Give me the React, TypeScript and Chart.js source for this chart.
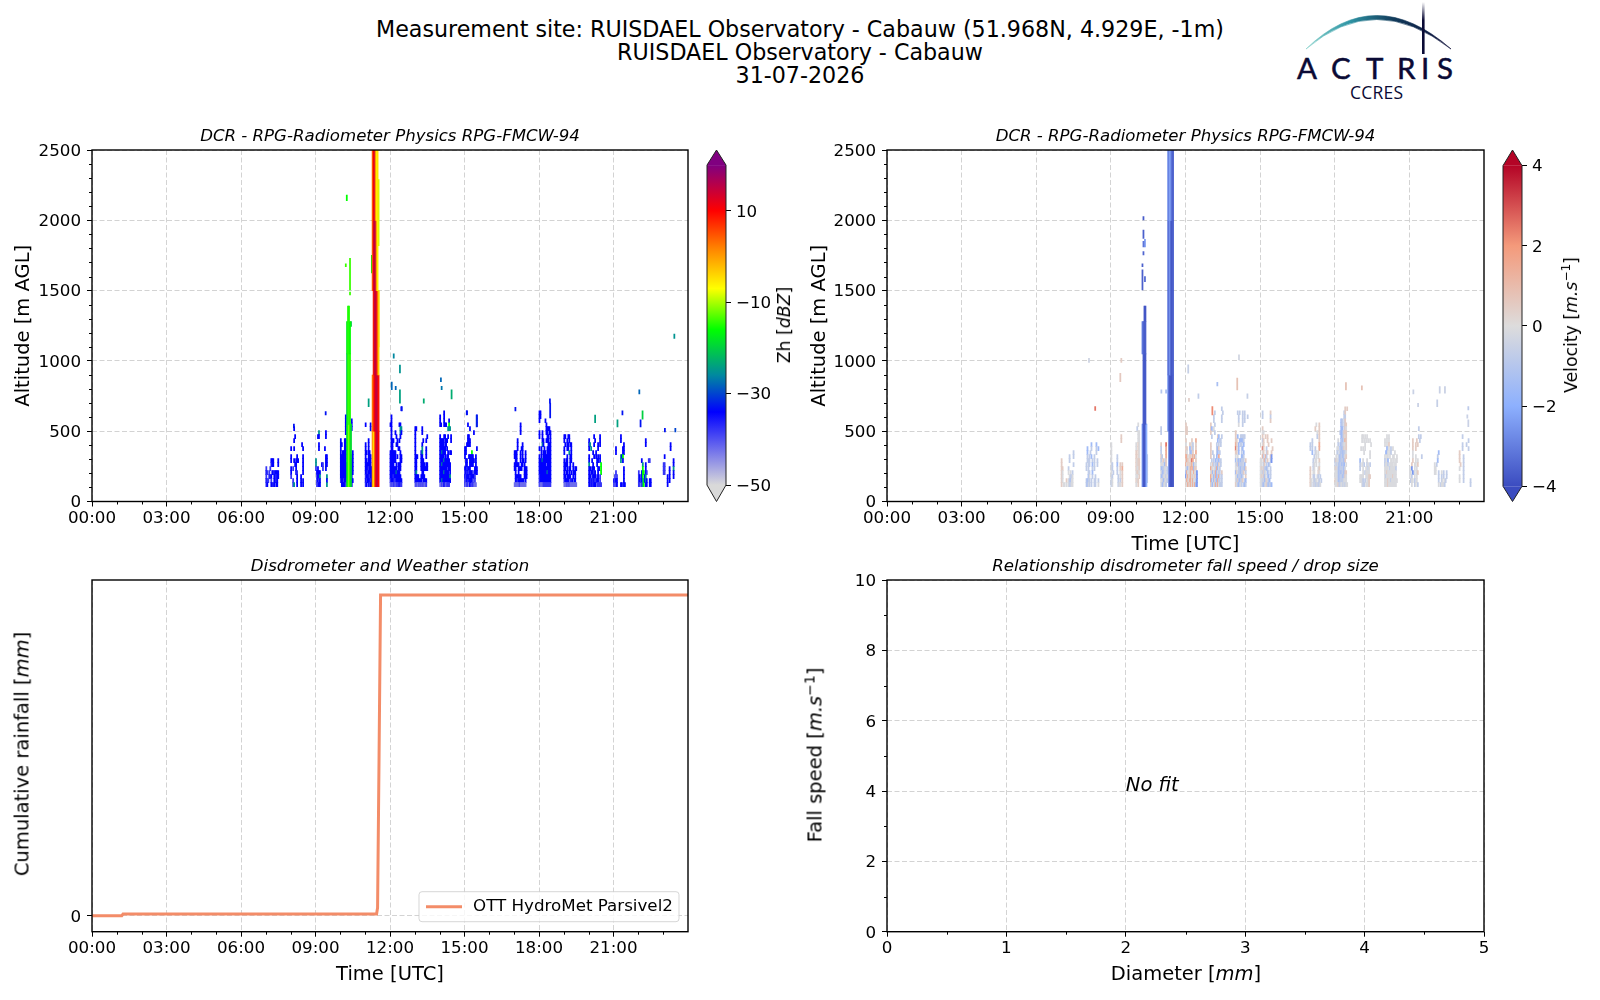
import { useEffect, useRef } from "react";
import { Chart, registerables } from "chart.js";

Chart.register(...registerables);
Chart.defaults.font.family = "'DejaVu Sans'";
Chart.defaults.color = "#000";

// --- axis values
const timeTicks = [0, 3, 6, 9, 12, 15, 18, 21];
const timeMinor = [1, 2, 4, 5, 7, 8, 10, 11, 13, 14, 16, 17, 19, 20, 22, 23];
const altMinor = [100, 200, 300, 400, 600, 700, 800, 900, 1100, 1200, 1300, 1400, 1600, 1700, 1800, 1900, 2100, 2200, 2300, 2400];
const zhTicks = [-50, -30, -10, 10];
const velTicks = [-4, -2, 0, 2, 4];
const zhStopValues = [-50, -34, -26, -16, -7, 2, 10, 15, 20];
const zhStopColors = ["#d9d9d9", "#0000ff", "#0088a0", "#00ff00", "#ffff00", "#ff8000", "#ff0000", "#c00040", "#800080"];
const velStopValues = [-4, -2, 0, 2, 4];
const velStopColors = ["#3b4cc0", "#8db0fe", "#dddcdc", "#f49a7b", "#b40426"];

// --- radar range gates and scan step
const gateBase = 106;
const gateStep = 28.4;
const scanStep = 0.04;

// --- letter codes for the cells below, in dBZ and m/s
const zhCodes: Record<string, number> = { l: -42, m: -38, b: -34, t: -25, g: -16 };
const velCodes: Record<string, number> = { e: -0.1, c: -0.7, a: -1.5, A: -2.5, p: 0.5, o: 1.4, r: 2.5 };

// --- showers, one row per gate (highest first), one letter per scan
const showerHours = [7, 8, 9, 10, 11, 12, 13, 14, 15, 17, 18, 19, 20, 21, 22, 23];

const zh07 = [".....bbb....b", ".....mbb....b", "m...m........", "bm.m..bbmbbbb", "m..bmb..bbmbb", "bmm..m..bbmb.", "mb...bbmb.bb."];
const zh08 = ["...b.........", ".............", "....b........", "...b.........", "...........b.", "b..b........b", ".............", "b.....b.....b", "b..b.bbb....b", "....bb......b", "b.m..b......b", "b....bm.....b", "m.....b...b..", "..m...b...b.b", "..mt..b...b.b"];
const zh09 = ["...t......b..", "..bb......b..", ".............", "...b.........", "...b.....b...", ".............", "..........bb.", "t.........bb.", "t.....bm..bb.", "m.b....m..b..", ".bbbb........", ".mbbt......t.", ".mbmb......b.", ".mmbb......t."];
const zh10 = [".....b.......", ".....b.....b.", ".....b.....b.", ".....b.....b.", ".....b.......", ".............", "b...bb.......", "bb..bb.......", "b...bb.......", "b.bbbb......b", "bbbbbb....b.b", "bbbbbb....bbb", "bbbbbbb...bbb", "bbbbbbb...bbb", "bbbbbbb...bbb", "bbbbbbb...bb.", "mbbmbbm...mbb", ".bbbbm....bb."];
const zh11 = ["b....b.", ".....b.", ".......", ".......", "...b...", "b..b...", "b..b...", "bb.bb..", "b..bbb.", "bb.bbb.", "bbbbbb.", "bbbmbbb", "bbmbbbb", "mbbbmbb", "bmbbbmb", "mb.bmbb"];
const zh12 = ["...........b.", ".............", ".b...........", ".b...........", "bb.......bb..", ".b........tt.", ".b...b....tb.", ".b....b...b..", ".bbb...b.b...", ".bb...bb.....", ".bb.....bb...", "bbbbbb....b..", "bbbbbb.b..bb.", "bbbbbb....bb.", "bbbb..b.bbb..", "bbbbbbb.bbb..", "bbbbbbtbbb...", "bbbmbbbbbbb..", "mbbbmmbbbbbb.", "lmlmmlmmmbmm."];
const zh13 = ["bb.....b.....", "b......b.....", "b...........b", "b.......b..b.", "b......b.....", "b......t...b.", "b.....bt...b.", "bbb...bb...b.", "bb....bbb....", "bb....bbbb.bb", "bb....bbbbbbb", "bt.....bb....", "bbbb..bbbb...", "bbbbbbb.bbbb.", "lmllmlmlmllm."];
const zh14 = ["....b........", "b...b........", "b...b....b...", "bb..bbb..g...", "........ttt..", ".............", "b...bb..b..b.", "bbbb.bbb...b.", "bbbb.bb......", "bbbbbb.b.....", "bbtbbb..b.bb.", "bbbb.b.bb....", "bbbbtbbbbb...", "bbtbbbbbbbb..", "bbbbbbb.bbb..", "bbbbtbbbb.b..", "bbbbbbbbbbt..", "bbtbbbbbbbb..", "llmlbmlmmm..."];
const zh15 = ["..b..........", "............b", "............b", "...b........b", ".....b.......", ".........b...", "...bb........", "...bbb.......", "..bbbb.......", "bb..........b", "bb.....g.....", "b...bbbbb..b.", ".bb..bbbbb.b.", ".bb..bbbb..b.", "bb.bbb....bbb", "mb.bmbbbm.bbb", "bmbbb.bbbbm..", "mmb.bbbbm.m..", "mlmmlb.mm.ll."];
const zh17 = ["......b......", "......b......", "......b......", ".............", "...b.........", "...b....b....", "...b...bb....", "bbb...b.b..b.", "bbb...b.b..b.", ".bb...b.bb.b.", "bbbbb..bb.b..", "bb..bbbb..bbb", ".b..b.....bbb", ".bbbbbb...bbb", ".bbmbbbbbb.b.", "lllllmllllll."];
const zh18 = ["bb...........", "bb...........", "b.....b......", ".......b.....", ".......bbbb..", "b..b...bb.bb.", "b..b....bb.b.", "...bb..bbb.b.", "...tb....bbb.", "b.b..b..bbbb.", "..b.bbb.bbbb.", "b.b.bbbbbbbb.", "bbbtbbbbbbbb.", "bbbbbbb.bbbb.", "bbbbbbbbbbbb.", "bbbbbbbbtbbb.", "mbbbbbbbbbbb.", "mbbbbbbbbbbb.", "mlllmmmmmmmm."];
const zh19 = ["bb..bb.......", "b..b.b.......", ".b.bb.bb.....", "b..bb..b.....", "b....t.b.....", "...b..bb.....", "b.bb..bb.....", "bbbb..b..b...", "bb.b.bb..b.bb", "b.bb.b.b.bbb.", "bb.bbbb..b.b.", "mbbbb.bmb.bb.", "lllmlmlllllll"];
const zh20 = [".....b.....b.", "b.....b....b.", "bt...b...b.b.", "b.t......b...", "....b..b.....", "b....b.b.b.b.", "b..b....bb.b.", "t...b...b...g", "bb.bbb...bb.g", "b.bbbmb..b..g", "bb.mbbb.mb.m.", "bbmbmbmmbb.m.", "bbmbmbb.mmmmm"];
const zh21 = [".......b.....", ".......b.....", "..........b..", "..b......bb..", "..b......bb..", ".......tbg...", ".......t.b...", ".............", "..........b..", "..m.......b..", ".m.m......b..", "bmbb......b..", "m.mb...bb.bb."];
const zh22 = [".......b.....", ".......b.....", ".............", ".............", ".............", "...b......mm.", "....t..b.....", "....g..b.....", "m..bgg.bm....", "mb.bg.bt.....", "mbmbtgbtb..bb", "mm.mtg.bb..bb"];
const zh23 = [".......b.....", ".......b.....", ".............", ".b...........", "..........b..", "mm........b..", "mm....b...t..", "mm....b...b..", "....b.b...b..", "....b.b......", "....b........"];
const zhShowers = [zh07, zh08, zh09, zh10, zh11, zh12, zh13, zh14, zh15, zh17, zh18, zh19, zh20, zh21, zh22, zh23];

const vel07 = ["............c", "........c...c", "p.......c....", "p...........c", "pp.....c.....", "pe.....e.e.c.", "pe......ecce.", "pe...p.ecaee.", "p.ee.e.eccee."];
const vel08 = [".....a....a..", ".a...c....c.a", ".a..c.....c..", ".c.c.a..c....", ".ccc..c.c..c.", "c.cc..a.c..c.", "c.c...c.c....", "..cc..a......", "..ae..c..c...", "cacc.c..cc..c", "caec.c..cc..e"];
const vel09 = ["..........p..", "..........p..", "e............", "e............", "e............", "e.....c......", "e.....c......", "ec....a..p.p.", "ec....c..p.o.", "e.c...c..e.p.", "ec.....c.e.p.", "ce.....c.c.p.", "ce.....cee.p."];
const vel10 = ["..e..........", ".c...........", "..ee.........", "..ee.........", "..ee.........", "e.pe....cc...", "e.pe....cc...", "p.pe....ce...", "p.pe....cc.c.", "pepp....cacc.", "pepp....cacc.", "peep....caec.", "eppe....caac.", "ee.p....caac.", "pep.....caac.", "e.p.....cae.."];
const vel11 = ["c......", "c......", ".......", ".......", "p....r.", "c....o.", "c....o.", "pc...o.", "c.p.cp.", "ee.cap.", "cacce.c", "ecace.c", "caceece", "eecaeec", "ecaeec."];
const vel12 = ["p............", "pp...........", "pp...........", ".............", "p.....p...o..", "e...p.ec..p..", "pp..a.pc..p..", "pe..ca.p..o..", "ooe.pp.opoe..", "pop.epro..p..", "oep.ppopaee..", "ecaepo.oapp..", "aoeepoe.oeeA.", "Apoepoepep.A.", "eopeooeoeecA.", "peoppoeoeoaA."];
const vel13 = ["...........c.", "....c.......c", "...c.......c.", "...c.......c.", "p...c........", "pa.e.........", "p...c........", ".c.....pa..c.", ".......a.cc..", "p.....c.c.c..", "p.....cap....", "p.c...ca.c...", "p..c..a.o....", ".c.c.a.ca.c..", "e.pc.ccap.c..", "ope.ecoaec...", "epaecoaecc.p.", "opeacoacoc.c.", "oaeapcaocc.c.", "pcaecocoeccc."];
const vel14 = ["..c.c..c.c...", "...c...c.c..c", "...c...c.c...", "...e...c.....", ".............", "p............", "p.a..ccccc...", "pp..aaaac....", "op.a.cc.a....", "rp.a..ca.....", "pp.a..c.a....", "e.e...aac....", "aecacaccc.p..", "ecpaccccea...", "ee.ccacccap..", "apeccaccp.c..", "eeacccac..p..", "ecpcaccp.ca..", "pecacec.cac.."];
const vel15 = ["..c.......p..", "..c.......c..", "..........p..", ".............", "..p..........", "..ee.........", "..p..p.p.....", "..cp...p...p.", "..ep....p....", "..rp..c.....p", "..ep..cp...p.", "..oc.oc...pA.", "ee.eoc.p..cA.", "ee.cp.c.ac...", "epepccac..c..", "eecpce.ac.c..", "epepae.ca.c..", "eeceacpeca...", "eecacepcacca."];
const vel17 = ["......e..p...", ".....p...p...", ".......e.p...", ".......c.p...", "..c......p...", "c.c......o...", "c.c..c...o...", "..a..ce.e....", "....c.e.e....", "...c.ee..p...", "...ce.e..e...", "p..ce...ep...", "p..ee...pe...", "p..cc..ec.c..", "pe.ecce.ec.c.", "pe.ceccecce.."];
const vel18 = ["..........p.p", ".........cp..", ".........cc..", "......ac.cp..", "......ac.cpp.", "......aa.cpe.", ".....caacppp.", "......aacpep.", "...e..acaeop.", "...c.cacceep.", "..ee.acacpep.", "..c.ceacacce.", ".e.ecaccacep.", "cpeecacccap..", "ceceaccaca.e.", "epecaccccae..", "eeecacaccapp.", "eeecacccacpe.", "peecacccceee.", "eeepcceececee"];
const vel19 = ["..ee.e.e.....", "..e.e.e.e.e..", ".....e.....e.", ".e.e.e.......", "....e.....e..", "..........e..", "a..e...e.....", "c.e.c..ce.c..", "c..e..e.ce...", "...e.ceeee...", "eeee..eeepp..", "eeec.c.eep...", "..ecc.eeep..."];
const vel20 = ["..e.e........", "e.e.e........", "e.e.p........", "..a.e.c.e....", ".aae.ec...e..", "e.ee.e..ee..e", "c.ea..ee.e.ee", "ceec.eeee.ee.", "eeee.ceeeeec.", "eepeeeeeeeee.", "eceeeeeepeee.", "eeepeeceeeeee", "eeepeeeeeeee."];
const vel21 = [".........c...", ".............", ".........c.c.", "...p...p..c..", "...p..p.p....", "...p..p......", "...e.........", "...e..e.....c", "...p..e.e....", "..p..ee.p....", "e.A..e.e.....", "ee.A.e.ep....", "e.c..e.e.....", ".cee.c.e.....", "..e..ce.c...."];
const vel22 = ["....a........", "...c.........", "...a.........", "e.c..........", "ee...........", "ee..c..e.c..c", "....c..c.c..c", "....c..ce.ec.", "....e.ceeec.."];
const vel23 = ["...c.........", ".........c...", "...c...c.....", "...c.....c...", "p............", "p...c........", "p...c........", ".p..c........", "e...c........", "....c........", "e...c........", "e...c......c.", "...........c."];
const velShowers = [vel07, vel08, vel09, vel10, vel11, vel12, vel13, vel14, vel15, vel17, vel18, vel19, vel20, vel21, vel22, vel23];

// --- isolated echoes: hour, lower altitude, upper altitude, value
const zhEchoes = [
  [10.26, 2140, 2180, -16], [10.39, 1505, 1730, -14], [10.39, 1470, 1490, -14], [10.22, 1670, 1690, -14], [10.43, 1245, 1280, -20],
  [23.45, 1160, 1190, -25], [12.15, 1020, 1050, -26], [12.4, 915, 970, -25], [12.07, 795, 850, -28], [12.23, 795, 820, -28],
  [12.4, 700, 795, -24], [12.47, 645, 675, -33], [13.36, 700, 730, -23], [14.05, 853, 880, -28], [14.08, 795, 820, -27],
  [14.48, 730, 795, -23], [11.14, 675, 730, -24], [17.05, 645, 670, -33], [18.44, 700, 730, -33], [18.45, 595, 700, -33],
  [20.26, 560, 615, -24], [21.16, 530, 580, -24], [21.36, 615, 645, -33], [22.04, 765, 795, -28], [22.17, 585, 645, -20],
  [22.09, 530, 580, -33], [9.41, 615, 640, -33], [8.13, 525, 550, -33], [15.09, 615, 645, -33], [15.49, 530, 615, -32],
  [23.07, 495, 520, -33], [23.49, 495, 520, -30], [11.27, 1625, 1750, -17], [11.54, 1820, 2290, -9], [11.54, 1100, 1500, -8],
];
const velEchoes = [
  [10.31, 2003, 2026, -3.7], [10.31, 1872, 1930, -3.6], [10.37, 1810, 1865, -2.4], [10.31, 1810, 1850, -3.2], [10.31, 1754, 1778, -3.5],
  [10.27, 1671, 1690, -3.6], [10.27, 1505, 1647, -3.6], [10.37, 1564, 1600, -3.4], [8.37, 647, 675, 2.5], [8.12, 990, 1019, -0.4],
  [9.42, 990, 1019, 0.5], [9.38, 853, 912, 0.6], [12.11, 912, 972, -0.6], [13.28, 822, 848, -1.3], [14.08, 794, 877, 0.8],
  [14.15, 1007, 1043, -0.3], [18.45, 794, 846, 0.8], [19.09, 794, 822, 0.8], [21.16, 765, 794, -0.5], [21.35, 675, 699, -0.5],
  [22.22, 770, 817, -0.5], [22.43, 770, 817, -0.5], [22.12, 675, 723, -0.6], [23.37, 651, 675, -0.8], [23.37, 532, 580, -0.5],
  [23.33, 592, 616, -0.5], [11.22, 770, 794, -1.3], [11.03, 770, 794, -1], [12.52, 734, 765, -0.7], [12.14, 711, 734, 0.4],
  [14.49, 734, 765, -0.6], [13.08, 616, 675, 2.2],
];

// --- the two tall columns, one row of values per altitude band
const streakHours = [10.27, 10.31, 10.35, 10.39, 10.43];
const shaftHours = [11.3, 11.34, 11.38, 11.42, 11.46, 11.5, 11.54];
const streakBands = [[106, 550], [550, 1050], [1050, 1280], [1280, 1390]];
const shaftBands = [[106, 500], [500, 900], [900, 1500], [1500, 2000], [2000, 2510]];
const zhStreak = [[-19, -15, -11, -15, -19], [-21, -15, -14, -15, null], [-18, -15, -15, -16, null], [null, -15, -15, null, null]];
const zhShaft = [[2, -7, 2, 9, 15, 15, 10], [2, 6, 10, 14, 15, 14, 9], [null, 8, 14, 15, 13, 6, -3], [3, 12, 15, 15, 2, -6, null], [3, 10, 14, 3, -6, -5, null]];
const velStreak = [[-2.4, -3.7, -3.8, -3.7, -2], [null, -3.6, -3.8, -3.7, null], [-3, -3.4, -3.7, -3.6, null], [null, null, -3.8, -3.8, null]];
const velShaft = [[null, -3, -3.7, -3.9, -3.9, -3.8, null], [-2.4, -3.4, -3.8, -3.9, -3.9, -3.6, null], [-3, -3.3, -2.5, -3.6, -3.8, -3.6, null], [-3, -3.3, -2.5, -3.6, -3.8, -3.6, null], [-2.6, -3, -2.2, -2.7, -3.4, -3.6, null]];

// --- rain gauge
const rainHours = [0, 1.2, 1.25, 11.46, 11.5, 11.56, 11.62, 24];
const rainTotals = [0, 0, 0.04, 0.04, 0.2, 4, 8, 8];
const rainLabel = "OTT HydroMet Parsivel2";

const siteLines = ["Measurement site: RUISDAEL Observatory - Cabauw (51.968N, 4.929E, -1m)", "RUISDAEL Observatory - Cabauw", "31-07-2026"];
const radarTitle = "DCR - RPG-Radiometer Physics RPG-FMCW-94";

const hhmm = (h: number) => `${String(h).padStart(2, "0")}:00`;
const tickFont = { size: 16.7 };
const labelFont = { size: 19.5 };
const dash = [5, 2.5];

function colorFor(v: number, stops: number[], colors: string[]) {
  const rgb = (c: string) => [1, 3, 5].map((i) => parseInt(c.slice(i, i + 2), 16));
  if (v <= stops[0]) return colors[0];
  for (let i = 1; i < stops.length; i++) {
    if (v <= stops[i]) {
      const t = (v - stops[i - 1]) / (stops[i] - stops[i - 1]);
      const a = rgb(colors[i - 1]);
      const b = rgb(colors[i]);
      return `rgb(${a.map((x, k) => Math.round(x + (b[k] - x) * t)).join(",")})`;
    }
  }
  return colors[colors.length - 1];
}

function buildCells(showers: string[][], codes: Record<string, number>, echoes: number[][], bands: any[]) {
  const cells: any[] = [];
  showers.forEach((rows, s) => {
    rows.forEach((row, i) => {
      const gate = rows.length - 1 - i;
      [...row].forEach((code, col) => {
        if (codes[code] === undefined) return;
        const lo = gateBase + gate * gateStep;
        cells.push({ x: showerHours[s] + (col + 0.5) * scanStep, y: [lo, lo + gateStep], v: codes[code] });
      });
    });
  });
  echoes.forEach(([x, lo, hi, v]) => cells.push({ x, y: [lo, hi], v }));
  return cells.concat(bands);
}

function bandCells(hours: number[], ranges: number[][], values: (number | null)[][]) {
  const cells: any[] = [];
  values.forEach((row, b) =>
    row.forEach((v, c) => {
      if (v !== null) cells.push({ x: hours[c], y: ranges[b], v });
    })
  );
  return cells;
}

// spines and minor ticks, which Chart.js does not have
function frameWith(minorX: number[], minorY: number[]) {
  return {
    id: "frame",
    afterDraw(chart: any) {
      const { ctx, chartArea: a, scales } = chart;
      ctx.save();
      ctx.strokeStyle = "#000";
      ctx.lineWidth = 1;
      ctx.beginPath();
      minorX.forEach((v) => {
        const x = Math.round(scales.x.getPixelForValue(v)) + 0.5;
        ctx.moveTo(x, a.bottom);
        ctx.lineTo(x, a.bottom + 3);
      });
      minorY.forEach((v) => {
        const y = Math.round(scales.y.getPixelForValue(v)) + 0.5;
        ctx.moveTo(a.left, y);
        ctx.lineTo(a.left - 3, y);
      });
      ctx.stroke();
      ctx.lineWidth = 1.4;
      ctx.strokeRect(a.left, a.top, a.right - a.left, a.bottom - a.top);
      ctx.restore();
    },
  };
}

const timeAxis = (title: string | null, height: number) => ({
  type: "linear",
  min: 0,
  max: 24,
  offset: false,
  afterBuildTicks: (axis: any) => (axis.ticks = timeTicks.map((value) => ({ value }))),
  afterFit: (axis: any) => (axis.height = height),
  ticks: { font: tickFont, maxRotation: 0, autoSkip: false, padding: 2, callback: (v: number) => hhmm(v) },
  grid: { color: "#d3d3d3", lineWidth: 1, tickColor: "#000", tickLength: 5, offset: false },
  border: { display: false, dash },
  title: title ? { display: true, text: title, font: labelFont, padding: { top: 5.6, bottom: 5.6 } } : { display: false },
});

const valueTicks = (stepSize?: number) => ({ font: tickFont, padding: 6, autoSkip: false, labelOffset: 1.5, stepSize, callback: (v: number) => String(v) });

const valueAxis = (extra: any) => ({
  type: "linear",
  afterFit: (axis: any) => (axis.width = 92),
  ticks: valueTicks(),
  grid: { color: "#d3d3d3", lineWidth: 1, tickColor: "#000", tickLength: 5 },
  border: { display: false, dash },
  ...extra,
});

const panelBase = (title: string) => ({
  responsive: false,
  animation: false,
  devicePixelRatio: 1,
  events: [],
  layout: { padding: { right: 92 } },
  plugins: {
    legend: { display: false },
    tooltip: { enabled: false },
    title: { display: true, fullSize: false, text: title, font: { size: 16.6, style: "italic", weight: "normal", lineHeight: "20px" }, padding: { top: 7, bottom: 3 } },
  },
});

const radarConfig = (cells: any[], paint: (v: number) => string, xTitle: string | null, yPad: number) => ({
  type: "bar",
  data: { datasets: [{ data: cells, backgroundColor: (c: any) => paint(c.raw?.v ?? 0), borderWidth: 0, barThickness: 1.1, grouped: false }] },
  options: {
    ...panelBase(radarTitle),
    scales: {
      x: timeAxis(xTitle, 60.5),
      y: valueAxis({ min: 0, max: 2500, ticks: valueTicks(500), title: { display: true, text: "Altitude [m AGL]", font: labelFont, padding: { top: yPad, bottom: 0 } } }),
    },
  },
  plugins: [frameWith(timeMinor, altMinor)],
});

const legendBox = {
  id: "legendBox",
  afterDraw(chart: any) {
    const { ctx, chartArea: a } = chart;
    const left = a.right - 269;
    const top = a.bottom - 40;
    ctx.save();
    ctx.beginPath();
    ctx.roundRect(left, top, 260, 30, 3);
    ctx.fillStyle = "rgba(255,255,255,0.8)";
    ctx.fill();
    ctx.strokeStyle = "rgba(204,204,204,0.8)";
    ctx.stroke();
    ctx.beginPath();
    ctx.moveTo(left + 7, top + 15);
    ctx.lineTo(left + 43, top + 15);
    ctx.strokeStyle = chart.data.datasets[0].borderColor;
    ctx.lineWidth = 3;
    ctx.stroke();
    ctx.fillStyle = "#000";
    ctx.font = "16.7px 'DejaVu Sans'";
    ctx.textBaseline = "middle";
    ctx.fillText(chart.data.datasets[0].label, left + 54, top + 15);
    ctx.restore();
  },
};

const rainConfig = () => ({
  type: "line",
  data: {
    datasets: [{ label: rainLabel, data: rainHours.map((x, i) => ({ x, y: rainTotals[i] })), borderColor: "#f38c68", borderWidth: 3, pointRadius: 0 }],
  },
  options: {
    ...panelBase("Disdrometer and Weather station"),
    scales: {
      x: timeAxis("Time [UTC]", 60.3),
      y: valueAxis({ min: -0.4, max: 8.375, afterBuildTicks: (axis: any) => (axis.ticks = [{ value: 0 }]) }),
    },
  },
  plugins: [frameWith(timeMinor, []), legendBox],
});

const noFitText = {
  id: "noFit",
  afterDraw(chart: any) {
    const { ctx, scales } = chart;
    ctx.save();
    ctx.font = "italic 19.5px 'DejaVu Sans'";
    ctx.fillStyle = "#000";
    ctx.fillText("No fit", scales.x.getPixelForValue(2), scales.y.getPixelForValue(4));
    ctx.restore();
  },
};

const fallConfig = () => ({
  type: "scatter",
  data: { datasets: [] },
  options: {
    ...panelBase("Relationship disdrometer fall speed / drop size"),
    scales: {
      x: {
        type: "linear",
        min: 0,
        max: 5,
        afterFit: (axis: any) => (axis.height = 60.3),
        ticks: { font: tickFont, padding: 2, stepSize: 1, maxRotation: 0 },
        grid: { color: "#d3d3d3", lineWidth: 1, tickColor: "#000", tickLength: 5 },
        border: { display: false, dash },
      },
      y: valueAxis({ min: 0, max: 10, ticks: valueTicks(2) }),
    },
  },
  plugins: [frameWith([0.5, 1.5, 2.5, 3.5, 4.5], [1, 3, 5, 7, 9]), noFitText],
});

const colorBarConfig = (ticks: number[], values: number[], colors: string[], span: number[]) => ({
  type: "scatter",
  data: { datasets: [] },
  options: {
    responsive: false,
    animation: false,
    devicePixelRatio: 1,
    events: [],
    layout: { padding: { left: 7, top: 20, bottom: 20.5 } },
    plugins: { legend: { display: false }, tooltip: { enabled: false } },
    scales: {
      x: { type: "linear", display: false, min: 0, max: 1 },
      y: {
        type: "linear",
        position: "right",
        min: span[0],
        max: span[1],
        afterBuildTicks: (axis: any) => (axis.ticks = ticks.map((value) => ({ value }))),
        afterFit: (axis: any) => (axis.width = 64),
        ticks: { font: tickFont, padding: 5, autoSkip: false, labelOffset: 1.5, callback: (v: number) => String(v).replace("-", "\u2212") },
        grid: { drawOnChartArea: false, tickColor: "#000", tickLength: 5 },
        border: { display: false },
      },
    },
  },
  plugins: [
    {
      id: "colorBar",
      afterDraw(chart: any) {
        const { ctx, chartArea: a, scales } = chart;
        const lo = values[0];
        const hi = values[values.length - 1];
        const bottom = scales.y.getPixelForValue(lo);
        const top = scales.y.getPixelForValue(hi);
        const mid = (a.left + a.right) / 2;
        const fill = ctx.createLinearGradient(0, bottom, 0, top);
        values.forEach((v, i) => fill.addColorStop((v - lo) / (hi - lo), colors[i]));
        ctx.save();
        ctx.fillStyle = fill;
        ctx.fillRect(a.left, top, a.right - a.left, bottom - top);
        ctx.fillStyle = colors[colors.length - 1];
        ctx.beginPath();
        ctx.moveTo(a.left, top);
        ctx.lineTo(mid, a.top);
        ctx.lineTo(a.right, top);
        ctx.fill();
        ctx.fillStyle = colors[0];
        ctx.beginPath();
        ctx.moveTo(a.left, bottom);
        ctx.lineTo(mid, a.bottom);
        ctx.lineTo(a.right, bottom);
        ctx.fill();
        ctx.strokeStyle = "#222";
        ctx.lineWidth = 1;
        ctx.beginPath();
        ctx.moveTo(a.left, top);
        ctx.lineTo(mid, a.top);
        ctx.lineTo(a.right, top);
        ctx.lineTo(a.right, bottom);
        ctx.lineTo(mid, a.bottom);
        ctx.lineTo(a.left, bottom);
        ctx.closePath();
        ctx.stroke();
        ctx.restore();
      },
    },
  ],
});

function Panel({ left, top, width, height, config }: { left: number; top: number; width: number; height: number; config: () => any }) {
  const canvasRef = useRef<HTMLCanvasElement>(null);
  useEffect(() => {
    if (!canvasRef.current) return;
    const chart = new Chart(canvasRef.current, config());
    return () => chart.destroy();
  }, []);
  return <canvas ref={canvasRef} width={width} height={height} style={{ position: "absolute", left, top, width, height }} />;
}

function AxisText({ x, y, vertical, children, size = 19.5 }: { x: number; y: number; vertical?: boolean; children: any; size?: number }) {
  return (
    <div style={{ position: "absolute", left: x, top: y, transform: `translate(-50%,-50%)${vertical ? " rotate(-90deg)" : ""}`, whiteSpace: "nowrap", fontSize: size }}>
      {children}
    </div>
  );
}

function Logo() {
  return (
    <svg width={1600} height={110} style={{ position: "absolute", left: 0, top: 0 }}>
      <defs>
        <linearGradient id="arc" gradientUnits="userSpaceOnUse" x1={1306} y1={0} x2={1451} y2={0}>
          <stop offset="0" stopColor="#86d2cb" />
          <stop offset="0.3" stopColor="#2f95a5" />
          <stop offset="0.6" stopColor="#123c5c" />
          <stop offset="1" stopColor="#0a0a35" />
        </linearGradient>
        <linearGradient id="mast" x1={0} y1={0} x2={0} y2={1}>
          <stop offset="0" stopColor="#ffffff" />
          <stop offset="0.35" stopColor="#0a0a35" />
        </linearGradient>
      </defs>
      <path d="M1306 49 Q1375 -18 1451 49 Q1375 -10 1306 49Z" fill="url(#arc)" stroke="url(#arc)" strokeWidth={0.6} />
      <rect x={1422} y={2} width={2.6} height={52} fill="url(#mast)" />
      <text x="1297 1331 1366 1397 1421 1437" y={79} fontFamily="Lato" fontSize={29.5} fill="#0a0a35" stroke="#0a0a35" strokeWidth={0.5}>
        ACTRIS
      </text>
      <text x={1350} y={99} fontFamily="'Open Sans'" fontSize={17.5} textLength={53} fill="#0a0a35">
        CCRES
      </text>
    </svg>
  );
}

export default function App() {
  const zhCells = () => buildCells(zhShowers, zhCodes, zhEchoes, [...bandCells(streakHours, streakBands, zhStreak), ...bandCells(shaftHours, shaftBands, zhShaft)]);
  const velCells = () => buildCells(velShowers, velCodes, velEchoes, [...bandCells(streakHours, streakBands, velStreak), ...bandCells(shaftHours, shaftBands, velShaft)]);
  return (
    <div style={{ position: "absolute", left: 0, top: 0, width: 1600, height: 1000, background: "#fff", fontFamily: "'DejaVu Sans'", color: "#000" }}>
      <div style={{ position: "absolute", left: 0, top: 18, width: 1600, textAlign: "center", fontSize: 22.2, lineHeight: "23px" }}>
        {siteLines.map((line) => (
          <div key={line}>{line}</div>
        ))}
      </div>
      <Logo />
      <Panel left={0} top={120} width={780} height={442} config={() => radarConfig(zhCells(), (v) => colorFor(v, zhStopValues, zhStopColors), null, 12)} />
      <Panel left={795} top={120} width={781} height={442} config={() => radarConfig(velCells(), (v) => colorFor(v, velStopValues, velStopColors), "Time [UTC]", 13)} />
      <Panel left={0} top={550} width={780} height={442} config={rainConfig} />
      <Panel left={795} top={550} width={781} height={442} config={fallConfig} />
      <Panel left={700} top={130} width={90} height={392} config={() => colorBarConfig(zhTicks, zhStopValues, zhStopColors, [-53.6, 23.3])} />
      <Panel left={1496} top={130} width={90} height={392} config={() => colorBarConfig(velTicks, velStopValues, velStopColors, [-4.38, 4.39])} />
      <AxisText x={784} y={325} vertical size={17.3}>
        Zh [<i>dBZ</i>]
      </AxisText>
      <AxisText x={1571} y={325} vertical size={17.3}>
        Velocity [<i>m.s</i>
        <sup style={{ fontSize: 12, lineHeight: 0 }}>−1</sup>]
      </AxisText>
      <AxisText x={22} y={754} vertical>
        Cumulative rainfall [<i>mm</i>]
      </AxisText>
      <AxisText x={815} y={755} vertical>
        Fall speed [<i>m.s</i>
        <sup style={{ fontSize: 14, lineHeight: 0 }}>−1</sup>]
      </AxisText>
      <AxisText x={1186} y={973}>
        Diameter [<i>mm</i>]
      </AxisText>
    </div>
  );
}
